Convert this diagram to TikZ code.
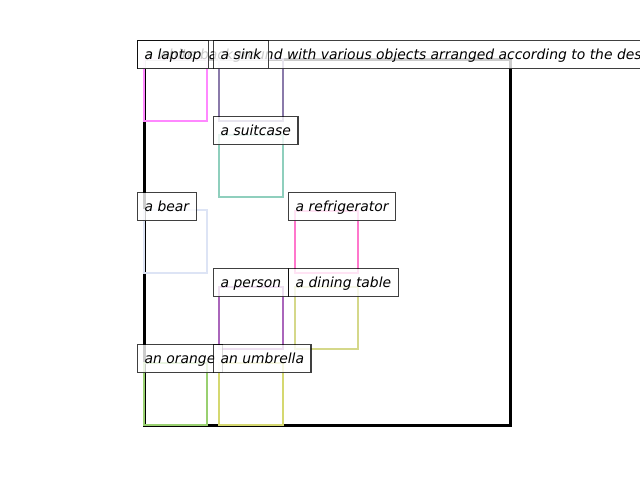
\documentclass[tikz,border=0pt]{standalone}
\usepackage{fontspec}
\setmainfont{DejaVu Sans}
\definecolor{laptopc}{HTML}{FF88FF}
\definecolor{sinkc}{HTML}{8A7AAA}
\definecolor{suitcasec}{HTML}{8FCFBD}
\definecolor{bearc}{HTML}{DDE4F5}
\definecolor{fridgec}{HTML}{FF77CC}
\definecolor{personc}{HTML}{AA66BB}
\definecolor{tablec}{HTML}{D5D88A}
\definecolor{orangec}{HTML}{99D070}
\definecolor{umbrellac}{HTML}{D5D870}
\tikzset{
  objbox/.style={line width=2.6pt},
  lbl/.style={anchor=north west, draw=black, draw opacity=0.75, fill=white,
    fill opacity=0.8, text opacity=1, line width=1.3pt,
    font=\fontsize{13.9}{16}\selectfont\itshape,
    inner xsep=7pt, inner ysep=5.9pt, text height=12.9pt, text depth=3.3pt}
}
\begin{document}
\begin{tikzpicture}[x=1pt,y=-1pt]
\useasboundingbox (0,0) rectangle (640,480);
% frame of the scene
\draw[line width=3pt] (144,59) rectangle (510,425);
% object boxes
\draw[objbox,laptopc] (144,59) rectangle (207,121);
\draw[objbox,sinkc] (219,59) rectangle (283,121);
\draw[objbox,suitcasec] (219,135) rectangle (283,197);
\draw[objbox,bearc] (144,210) rectangle (207,273);
\draw[objbox,fridgec] (295,211) rectangle (358,273);
\draw[objbox,personc] (219,287) rectangle (283,349);
\draw[objbox,tablec] (295,287) rectangle (358,349);
\draw[objbox,orangec] (144,363) rectangle (207,425);
\draw[objbox,umbrellac] (219,363) rectangle (283,425);
% labels
\begin{scope}
\clip (0,0) rectangle (640,480);
\node[lbl] (bg) at (137,40) {a white background with various objects arranged according to the description};
\end{scope}
\node[lbl] (laptop) at (137,40) {a laptop};
\node[lbl] (sink) at (213,40) {a sink};
\node[lbl] (suitcase) at (213,116) {a suitcase};
\node[lbl] (bear) at (137,192) {a bear};
\node[lbl] (fridge) at (288,192) {a refrigerator};
\node[lbl] (person) at (213,268) {a person};
\node[lbl] (table) at (288,268) {a dining table};
\node[lbl] (orange) at (137,344) {an orange};
\node[lbl] (umbrella) at (213,344) {an umbrella};
\end{tikzpicture}
\end{document}
